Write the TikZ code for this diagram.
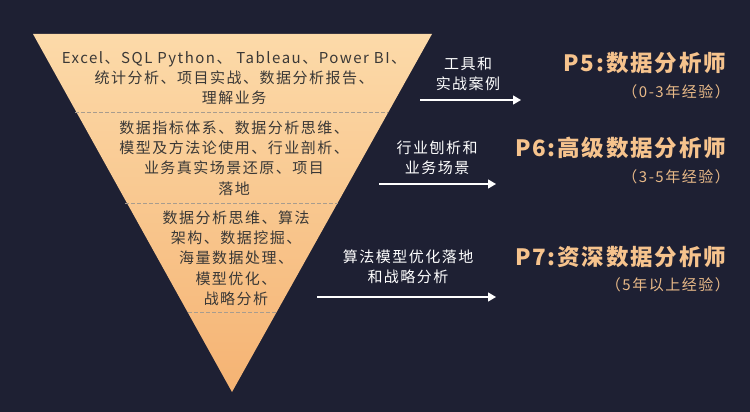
\documentclass[tikz,border=0pt]{standalone}
\usepackage{fontspec}
\setmainfont{Noto Sans CJK SC}
\usetikzlibrary{arrows.meta}
\definecolor{bg}{HTML}{1E2033}
\definecolor{tritop}{HTML}{FCDAA9}
\definecolor{tribot}{HTML}{F5B373}
\definecolor{tritext}{HTML}{3A3836}
\definecolor{dashc}{HTML}{A89C8E}
\definecolor{titlec}{HTML}{F6C38D}
\definecolor{subc}{HTML}{E9BA88}
\newfontfamily\spaced{Noto Sans CJK SC}[LetterSpace=10]
\newfontfamily\titlefam{Noto Sans CJK SC}[LetterSpace=8]
\tikzset{
  tritxt/.style={align=center, text=tritext, font=\spaced\fontsize{15}{20.3}\selectfont, inner sep=0pt},
  arrtxt/.style={align=center, text=white, font=\spaced\fontsize{15}{20}\selectfont, inner sep=0pt},
  ttl/.style={anchor=east, text=titlec, font=\titlefam\bfseries\fontsize{22.5}{26}\selectfont, inner sep=0pt},
  sub/.style={anchor=east, text=subc, font=\spaced\fontsize{15}{18}\selectfont, inner sep=0pt},
  sep/.style={draw=dashc, dash pattern=on 4pt off 2pt, line width=0.7pt},
  arr/.style={draw=white, line width=1.3pt, -{Triangle[length=8pt,width=9pt]}}
}
\begin{document}
\begin{tikzpicture}[x=1pt,y=-1pt]
\fill[bg] (0,0) rectangle (750,412);
\useasboundingbox (0,0) rectangle (750,412);
% triangle
\shade[top color=tritop, bottom color=tribot] (33,34) -- (432,34) -- (232,392) -- cycle;
% separators
\coordinate (s1a) at (75,112); \coordinate (s1b) at (388,112);
\coordinate (s2a) at (125,203); \coordinate (s2b) at (338,203);
\coordinate (s3a) at (188,312); \coordinate (s3b) at (276,312);
\draw[sep] (s1a) -- (s1b);
\draw[sep] (s2a) -- (s2b);
\draw[sep] (s3a) -- (s3b);
% triangle texts
\node[tritxt] (z1) at (234,78) {Excel、SQL Python、 Tableau、Power BI、\\统计分析、项目实战、数据分析报告、\\理解业务};
\node[tritxt] (z2) at (234,158) {数据指标体系、数据分析思维、\\模型及方法论使用、行业剖析、\\业务真实场景还原、项目\\落地};
\node[tritxt] (z3) at (236,258) {数据分析思维、算法\\架构、数据挖掘、\\海量数据处理、\\模型优化、\\战略分析};
% arrow labels
\node[arrtxt] (l1) at (468,74) {工具和\\实战案例};
\node[arrtxt] (l2) at (437,158) {行业刨析和\\业务场景};
\node[arrtxt] (l3) at (408,267) {算法模型优化落地\\和战略分析};
% arrows
\coordinate (a1s) at (420,100); \coordinate (a1e) at (521,100);
\coordinate (a2s) at (379,184); \coordinate (a2e) at (496,184);
\coordinate (a3s) at (317,297); \coordinate (a3e) at (496,297);
\draw[arr] (a1s) -- (a1e);
\draw[arr] (a2s) -- (a2e);
\draw[arr] (a3s) -- (a3e);
% titles
\node[ttl] (t1) at (726,63) {P5:数据分析师};
\node[sub] (u1) at (730,92) {（0-3年经验）};
\node[ttl] (t2) at (726,148) {P6:高级数据分析师};
\node[sub] (u2) at (730,177) {（3-5年经验）};
\node[ttl] (t3) at (726,257) {P7:资深数据分析师};
\node[sub] (u3) at (730,285) {（5年以上经验）};
\end{tikzpicture}
\end{document}
